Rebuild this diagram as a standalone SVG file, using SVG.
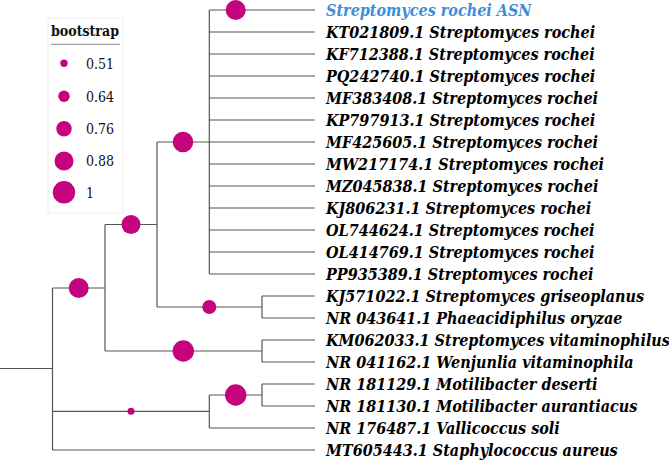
<svg xmlns="http://www.w3.org/2000/svg" width="669" height="460" viewBox="0 0 669 460">
<style>
.e{stroke:#555;stroke-width:1.2;fill:none}
.b{fill:#C5037D}
.t{font-family:"DejaVu Serif",serif;font-stretch:condensed;font-weight:bold;font-style:italic;font-size:16px;fill:#000}
.q{fill:#3A8FD9}
.l{font-family:"DejaVu Serif",serif;font-stretch:condensed;font-size:14px;fill:#111}
</style>
<rect width="669" height="460" fill="#fff"/>
<g id="legend">
<rect x="48" y="18" width="75" height="195" fill="#fff" stroke="#eee" stroke-width="1"/>
<text x="85" y="36" text-anchor="middle" font-family="DejaVu Serif,serif" font-stretch="condensed" font-weight="bold" font-size="14" fill="#111">bootstrap</text>
<line x1="51" y1="44.3" x2="120" y2="44.3" stroke="#888" stroke-width="1"/>
<circle class="b" cx="64" cy="63.3" r="3.7"/><text class="l" x="86" y="68.5">0.51</text>
<circle class="b" cx="64" cy="96.3" r="5.7"/><text class="l" x="86" y="101.5">0.64</text>
<circle class="b" cx="64" cy="128.7" r="7.7"/><text class="l" x="86" y="134">0.76</text>
<circle class="b" cx="64" cy="161" r="9.5"/><text class="l" x="86" y="166.3">0.88</text>
<circle class="b" cx="64" cy="192.3" r="11.2"/><text class="l" x="86" y="197.6">1</text>
</g>
<g id="edges" class="e">
<path d="M0 368.5H52.5M52.5 288V450M52.5 288H105M105 224.5V351M105 224.5H157M157 142V307M157 142H209.3M209.3 10V274"/>
<path d="M209.3 10H315M209.3 32H315M209.3 54H315M209.3 76H315M209.3 98H315M209.3 120H315M209.3 142H315M209.3 164H315M209.3 186H315M209.3 208H315M209.3 230H315M209.3 252H315M209.3 274H315"/>
<path d="M157 307H262M262 296V318M262 296H315M262 318H315"/>
<path d="M105 351H262M262 340V362M262 340H315M262 362H315"/>
<path d="M52.5 411.3H209.3M209.3 395V428M209.3 395H262M262 384V406M262 384H315M262 406H315M209.3 428H315"/>
<path d="M52.5 450H315"/>
</g>
<g id="nodes">
<circle id="n-asn" class="b" cx="235.7" cy="10" r="10"/>
<circle id="n-rochei" class="b" cx="183" cy="142" r="10.3"/>
<circle id="n-strep1" class="b" cx="131" cy="224.5" r="9.5"/>
<circle id="n-grise" class="b" cx="209.3" cy="307" r="7"/>
<circle id="n-top" class="b" cx="78.7" cy="288" r="10"/>
<circle id="n-vita" class="b" cx="183.3" cy="351" r="10.7"/>
<circle id="n-low" class="b" cx="131" cy="411.3" r="3.5"/>
<circle id="n-motili" class="b" cx="235.7" cy="395" r="10.7"/>
</g>
<g id="labels">
<text class="t q" x="326" y="16">Streptomyces rochei ASN</text>
<text class="t" x="326" y="38">KT021809.1 Streptomyces rochei</text>
<text class="t" x="326" y="60">KF712388.1 Streptomyces rochei</text>
<text class="t" x="326" y="82">PQ242740.1 Streptomyces rochei</text>
<text class="t" x="326" y="104">MF383408.1 Streptomyces rochei</text>
<text class="t" x="326" y="126">KP797913.1 Streptomyces rochei</text>
<text class="t" x="326" y="148">MF425605.1 Streptomyces rochei</text>
<text class="t" x="326" y="170">MW217174.1 Streptomyces rochei</text>
<text class="t" x="326" y="192">MZ045838.1 Streptomyces rochei</text>
<text class="t" x="326" y="214">KJ806231.1 Streptomyces rochei</text>
<text class="t" x="326" y="236">OL744624.1 Streptomyces rochei</text>
<text class="t" x="326" y="258">OL414769.1 Streptomyces rochei</text>
<text class="t" x="326" y="280">PP935389.1 Streptomyces rochei</text>
<text class="t" x="326" y="302">KJ571022.1 Streptomyces griseoplanus</text>
<text class="t" x="326" y="324">NR 043641.1 Phaeacidiphilus oryzae</text>
<text class="t" x="326" y="346">KM062033.1 Streptomyces vitaminophilus</text>
<text class="t" x="326" y="368">NR 041162.1 Wenjunlia vitaminophila</text>
<text class="t" x="326" y="390">NR 181129.1 Motilibacter deserti</text>
<text class="t" x="326" y="412">NR 181130.1 Motilibacter aurantiacus</text>
<text class="t" x="326" y="434">NR 176487.1 Vallicoccus soli</text>
<text class="t" x="326" y="456">MT605443.1 Staphylococcus aureus</text>
</g>
</svg>
